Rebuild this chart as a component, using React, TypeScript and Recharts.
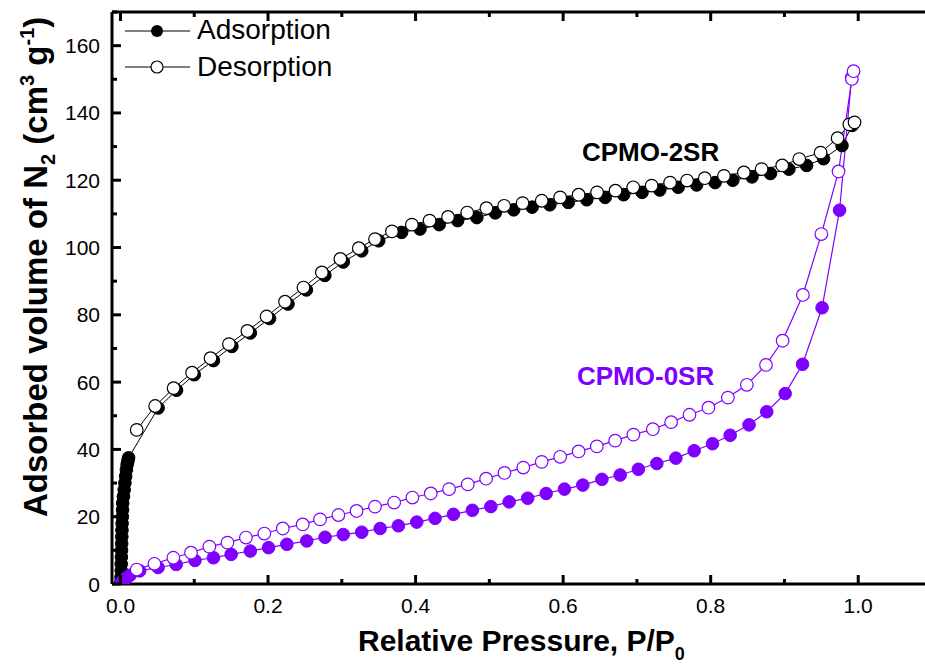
import React from "react";
import { LineChart, Line, XAxis, YAxis } from "recharts";

const PURPLE = "#8000ff";
const FONT = "'Liberation Sans', Arial, sans-serif";

// [P/P0, adsorbed volume]
const ads2SR: [number, number][] = [
  [0.0005, 0.5], [0.0008, 2], [0.001, 4], [0.001, 6], [0.0012, 8], [0.0014, 10],
  [0.0016, 12], [0.0018, 14], [0.002, 16], [0.0022, 18], [0.0025, 20], [0.0028, 22],
  [0.003, 24], [0.004, 26], [0.005, 28], [0.006, 30], [0.007, 32], [0.008, 34],
  [0.009, 35.5], [0.010, 36.5], [0.011, 37.5],
  [0.051, 52.3], [0.076, 57.6], [0.1, 62.2], [0.126, 66.4], [0.151, 70.6], [0.176, 74.6],
  [0.202, 78.9], [0.227, 83.2], [0.252, 87.4], [0.277, 91.7], [0.302, 95.7], [0.327, 99.0],
  [0.35, 102.0], [0.381, 104.5], [0.406, 105.5], [0.432, 106.8], [0.457, 108.0],
  [0.483, 108.9], [0.508, 110.3], [0.533, 111.2], [0.558, 112.0], [0.582, 112.7],
  [0.607, 113.4], [0.632, 114.2], [0.657, 114.9], [0.682, 115.7], [0.707, 116.4],
  [0.731, 117.1], [0.756, 117.9], [0.781, 118.6], [0.806, 119.3], [0.83, 120.0],
  [0.856, 121.0], [0.881, 122.0], [0.906, 123.3], [0.93, 124.4], [0.953, 126.4],
  [0.978, 130.3], [0.992, 136.3],
];

const des2SR: [number, number][] = [
  [0.022, 45.8], [0.047, 52.9], [0.072, 58.2], [0.097, 62.8], [0.122, 67.1], [0.147, 71.3],
  [0.172, 75.2], [0.198, 79.5], [0.223, 83.9], [0.248, 88.1], [0.273, 92.6], [0.298, 96.6],
  [0.323, 99.8], [0.345, 102.5], [0.368, 104.8], [0.395, 106.8], [0.419, 108.0],
  [0.444, 109.1], [0.47, 110.4], [0.496, 111.7], [0.52, 112.4], [0.545, 113.2],
  [0.571, 113.9], [0.596, 114.9], [0.621, 115.7], [0.646, 116.4], [0.671, 116.9],
  [0.695, 117.9], [0.72, 118.4], [0.745, 119.3], [0.768, 119.9], [0.792, 120.6],
  [0.818, 121.3], [0.845, 122.3], [0.869, 123.3], [0.897, 124.4], [0.92, 126.3],
  [0.949, 128.2], [0.972, 132.5], [0.988, 136.6], [0.995, 137.2],
];

const ads0SR: [number, number][] = [
  [0.001, 0.4], [0.004, 1.0], [0.008, 1.8], [0.013, 2.6], [0.026, 3.9],
  [0.051, 4.9], [0.0755, 5.8], [0.101, 7.0], [0.126, 7.8], [0.15, 8.8], [0.176, 9.8],
  [0.2007, 10.8], [0.2255, 11.8], [0.2525, 12.8], [0.2773, 13.9], [0.302, 14.7],
  [0.327, 15.4], [0.352, 16.5], [0.3767, 17.3], [0.4016, 18.4], [0.4264, 19.5],
  [0.4513, 20.7], [0.477, 21.9], [0.502, 23.0], [0.5268, 24.4], [0.552, 25.5],
  [0.577, 26.9], [0.6018, 28.2], [0.6267, 29.4], [0.6525, 31.1], [0.6773, 32.4],
  [0.702, 34.1], [0.727, 35.8], [0.7528, 37.4], [0.7776, 39.6], [0.8025, 41.7],
  [0.8264, 44.2], [0.852, 47.3], [0.876, 51.2], [0.901, 56.6], [0.9245, 65.3],
  [0.951, 82.1], [0.9747, 111.1], [0.991, 150.5],
];

const des0SR: [number, number][] = [
  [0.022, 4.3], [0.046, 6.0], [0.0716, 7.8], [0.0956, 9.3], [0.1205, 11.1], [0.145, 12.3],
  [0.17, 13.8], [0.195, 15.0], [0.22, 16.5], [0.247, 17.7], [0.2705, 19.2], [0.2954, 20.5],
  [0.32, 21.7], [0.345, 23.0], [0.371, 24.2], [0.3957, 25.7], [0.4206, 26.9],
  [0.4454, 28.2], [0.4707, 29.6], [0.4956, 31.3], [0.5205, 33.0], [0.546, 34.6],
  [0.571, 36.3], [0.596, 37.8], [0.621, 39.4], [0.6457, 40.9], [0.6705, 42.6],
  [0.6953, 44.4], [0.7216, 46.0], [0.7464, 48.1], [0.7713, 50.3], [0.797, 52.4],
  [0.8233, 55.4], [0.849, 59.2], [0.875, 65.1], [0.8975, 72.3], [0.925, 85.9],
  [0.95, 104.0], [0.9733, 122.6], [0.9914, 150.1], [0.9937, 152.4],
];

const xTicks = [0, 0.1, 0.2, 0.3, 0.4, 0.5, 0.6, 0.7, 0.8, 0.9, 1.0, 1.1];
const yTicks = [0, 10, 20, 30, 40, 50, 60, 70, 80, 90, 100, 110, 120, 130, 140, 150, 160, 170];

const toRows = (pts: [number, number][]) => pts.map(([p, v]) => ({ p, v }));

const isMajorX = (v: number) => Math.abs(v * 5 - Math.round(v * 5)) < 1e-6;

const BottomTick = (props: any) => {
  const { x, y, payload } = props;
  const major = isMajorX(payload.value);
  return (
    <g>
      <line x1={x} x2={x} y1={y} y2={y - (major ? 9 : 5)} stroke="#000" strokeWidth={3} />
      {major && (
        <text x={x} y={y + 29} textAnchor="middle" fontSize={21} fontFamily={FONT} fill="#000">
          {payload.value.toFixed(1)}
        </text>
      )}
    </g>
  );
};

const TopTick = (props: any) => {
  const { x, y, payload } = props;
  const major = isMajorX(payload.value);
  return <line x1={x} x2={x} y1={y} y2={y + (major ? 9 : 5)} stroke="#000" strokeWidth={3} />;
};

const LeftTick = (props: any) => {
  const { x, y, payload } = props;
  const major = payload.value % 20 === 0;
  return (
    <g>
      <line x1={x} x2={x + (major ? 9 : 5)} y1={y} y2={y} stroke="#000" strokeWidth={3} />
      {major && payload.value <= 160 && (
        <text x={x - 12} y={y + 7.5} textAnchor="end" fontSize={21} fontFamily={FONT} fill="#000">
          {payload.value}
        </text>
      )}
    </g>
  );
};

export default function App() {
  const dotFilled = (c: string) => ({ r: 6.3, fill: c, stroke: c, strokeWidth: 1 });
  const dotOpen = (c: string) => ({ r: 6.3, fill: "#fff", stroke: c, strokeWidth: 1.2 });

  return (
    <div style={{ position: "fixed", left: 0, top: 0, width: 925, height: 665, overflow: "hidden", background: "#fff" }}>
      <LineChart width={960} height={665} margin={{ top: 2, right: 28, bottom: 51, left: 82 }}>
        <XAxis
          type="number"
          dataKey="p"
          domain={[-0.0115, 1.1]}
          ticks={xTicks}
          interval={0}
          height={30}
          tickSize={0}
          tickMargin={0}
          tick={<BottomTick />}
          axisLine={{ stroke: "#000", strokeWidth: 3 }}
          allowDataOverflow
        />
        <XAxis
          xAxisId="top"
          orientation="top"
          type="number"
          dataKey="p"
          domain={[-0.0115, 1.1]}
          ticks={xTicks}
          interval={0}
          height={10}
          tickSize={0}
          tickMargin={0}
          tick={<TopTick />}
          axisLine={{ stroke: "#000", strokeWidth: 3 }}
          allowDataOverflow
        />
        <YAxis
          type="number"
          domain={[0, 170]}
          ticks={yTicks}
          interval={0}
          width={30}
          tickSize={0}
          tickMargin={0}
          tick={<LeftTick />}
          axisLine={{ stroke: "#000", strokeWidth: 3 }}
          allowDataOverflow
        />
        <Line data={toRows(ads2SR)} dataKey="v" stroke="#000" strokeWidth={1} dot={dotFilled("#000")} activeDot={false} isAnimationActive={false} />
        <Line data={toRows(des2SR)} dataKey="v" stroke="#000" strokeWidth={1} dot={dotOpen("#000")} activeDot={false} isAnimationActive={false} />
        <Line data={toRows(ads0SR)} dataKey="v" stroke={PURPLE} strokeWidth={1.2} dot={dotFilled(PURPLE)} activeDot={false} isAnimationActive={false} />
        <Line data={toRows(des0SR)} dataKey="v" stroke={PURPLE} strokeWidth={1.2} dot={dotOpen(PURPLE)} activeDot={false} isAnimationActive={false} />
      </LineChart>

      <svg width={925} height={665} style={{ position: "absolute", left: 0, top: 0, pointerEvents: "none" }} fontFamily={FONT}>
        {/* legend */}
        <line x1={125} x2={190} y1={31} y2={31} stroke="#000" strokeWidth={1} />
        <circle cx={157} cy={31} r={6} fill="#000" />
        <text x={197} y={39} fontSize={28} fill="#000">Adsorption</text>
        <line x1={125} x2={190} y1={67} y2={67} stroke="#000" strokeWidth={1} />
        <circle cx={157} cy={67} r={6} fill="#fff" stroke="#000" strokeWidth={1.2} />
        <text x={197} y={76} fontSize={28} fill="#000">Desorption</text>

        {/* series labels */}
        <text x={582} y={161} fontSize={26} fontWeight="bold" fill="#000">CPMO-2SR</text>
        <text x={577} y={385} fontSize={26} fontWeight="bold" fill={PURPLE}>CPMO-0SR</text>

        {/* axis titles */}
        <text x={358} y={651} fontSize={30} fontWeight="bold" fill="#000">
          Relative Pressure, P/P<tspan fontSize={18} dy={9}>0</tspan>
        </text>
        <text x={47} y={517} fontSize={33} fontWeight="bold" fill="#000" transform="rotate(-90, 47, 517)">
          Adsorbed volume of N<tspan fontSize={20} dy={8}>2</tspan>
          <tspan dy={-8}> (cm</tspan>
          <tspan fontSize={20} dy={-13}>3</tspan>
          <tspan dy={13}> g</tspan>
          <tspan fontSize={20} dy={-13}>-1</tspan>
          <tspan dy={13}>)</tspan>
        </text>
      </svg>
    </div>
  );
}
